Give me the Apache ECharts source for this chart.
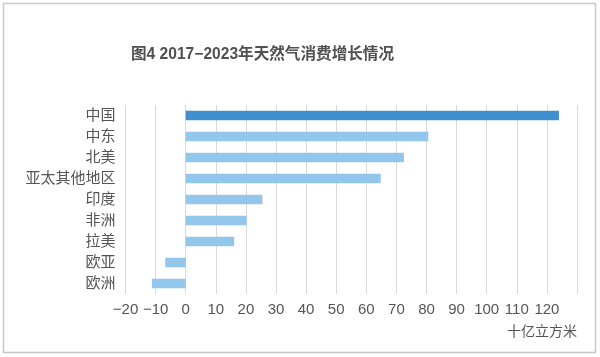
<!DOCTYPE html>
<html><head><meta charset="utf-8">
<script src="https://cdn.jsdelivr.net/npm/echarts@6/dist/echarts.min.js"></script>
<style>html,body{margin:0;padding:0;background:#fff}#c{width:600px;height:357px}</style>
</head><body><div id="c"></div>
<script>
const categories = ['中国','中东','北美','亚太其他地区','印度','非洲','拉美','欧亚','欧洲'];
const values = [124, 80.6, 72.5, 64.8, 25.5, 20.2, 16.1, -6.8, -11.2];
const highlightCategory = '中国';
const titleText = '图4 2017−2023年天然气消费增长情况';
const unitText = '十亿立方米';
const xMin = -20, xMax = 130, xStep = 10;
const hiddenTicks = [130];

const font = '"Liberation Sans","Noto Sans CJK SC",sans-serif';
const chart = echarts.init(document.getElementById('c'), null, {renderer:'canvas'});
chart.setOption({
  animation:false,
  backgroundColor:'#fff',
  title:{text:titleText, left:126, top:42, textStyle:{fontFamily:font, fontSize:15.6, fontWeight:'bold', color:'#505050'}},
  graphic:[
    {type:'rect', z:-10, shape:{x:3.5,y:3.5,width:592,height:349}, style:{fill:'#fff', stroke:'#c8c8c8', lineWidth:1.5}},
    {type:'text', right:23, top:325, style:{text:unitText, font:'14px '+font, fill:'#555'}}
  ],
  grid:{left:125.5, right:23, top:105, bottom:63, containLabel:false},
  xAxis:{type:'value', min:xMin, max:xMax, interval:xStep,
    axisLine:{show:false}, axisTick:{show:false},
    splitLine:{lineStyle:{color:'#d9d9d9', width:1}},
    axisLabel:{margin:8, fontFamily:font, fontSize:15, color:'#555',
      formatter:v=> hiddenTicks.includes(v) ? '' : (v<0 ? '−'+Math.abs(v) : String(v))}},
  yAxis:{type:'category', data:categories, inverse:true,
    axisLine:{show:false}, axisTick:{show:false},
    axisLabel:{margin:10, fontFamily:font, fontSize:15, color:'#555'}},
  series:[{type:'bar', barWidth:9.5,
    data:values.map((v,i)=>({value:v, itemStyle:{color: categories[i]===highlightCategory ? '#3f8fcf' : '#93c6eb'}}))}]
});
</script></body></html>
